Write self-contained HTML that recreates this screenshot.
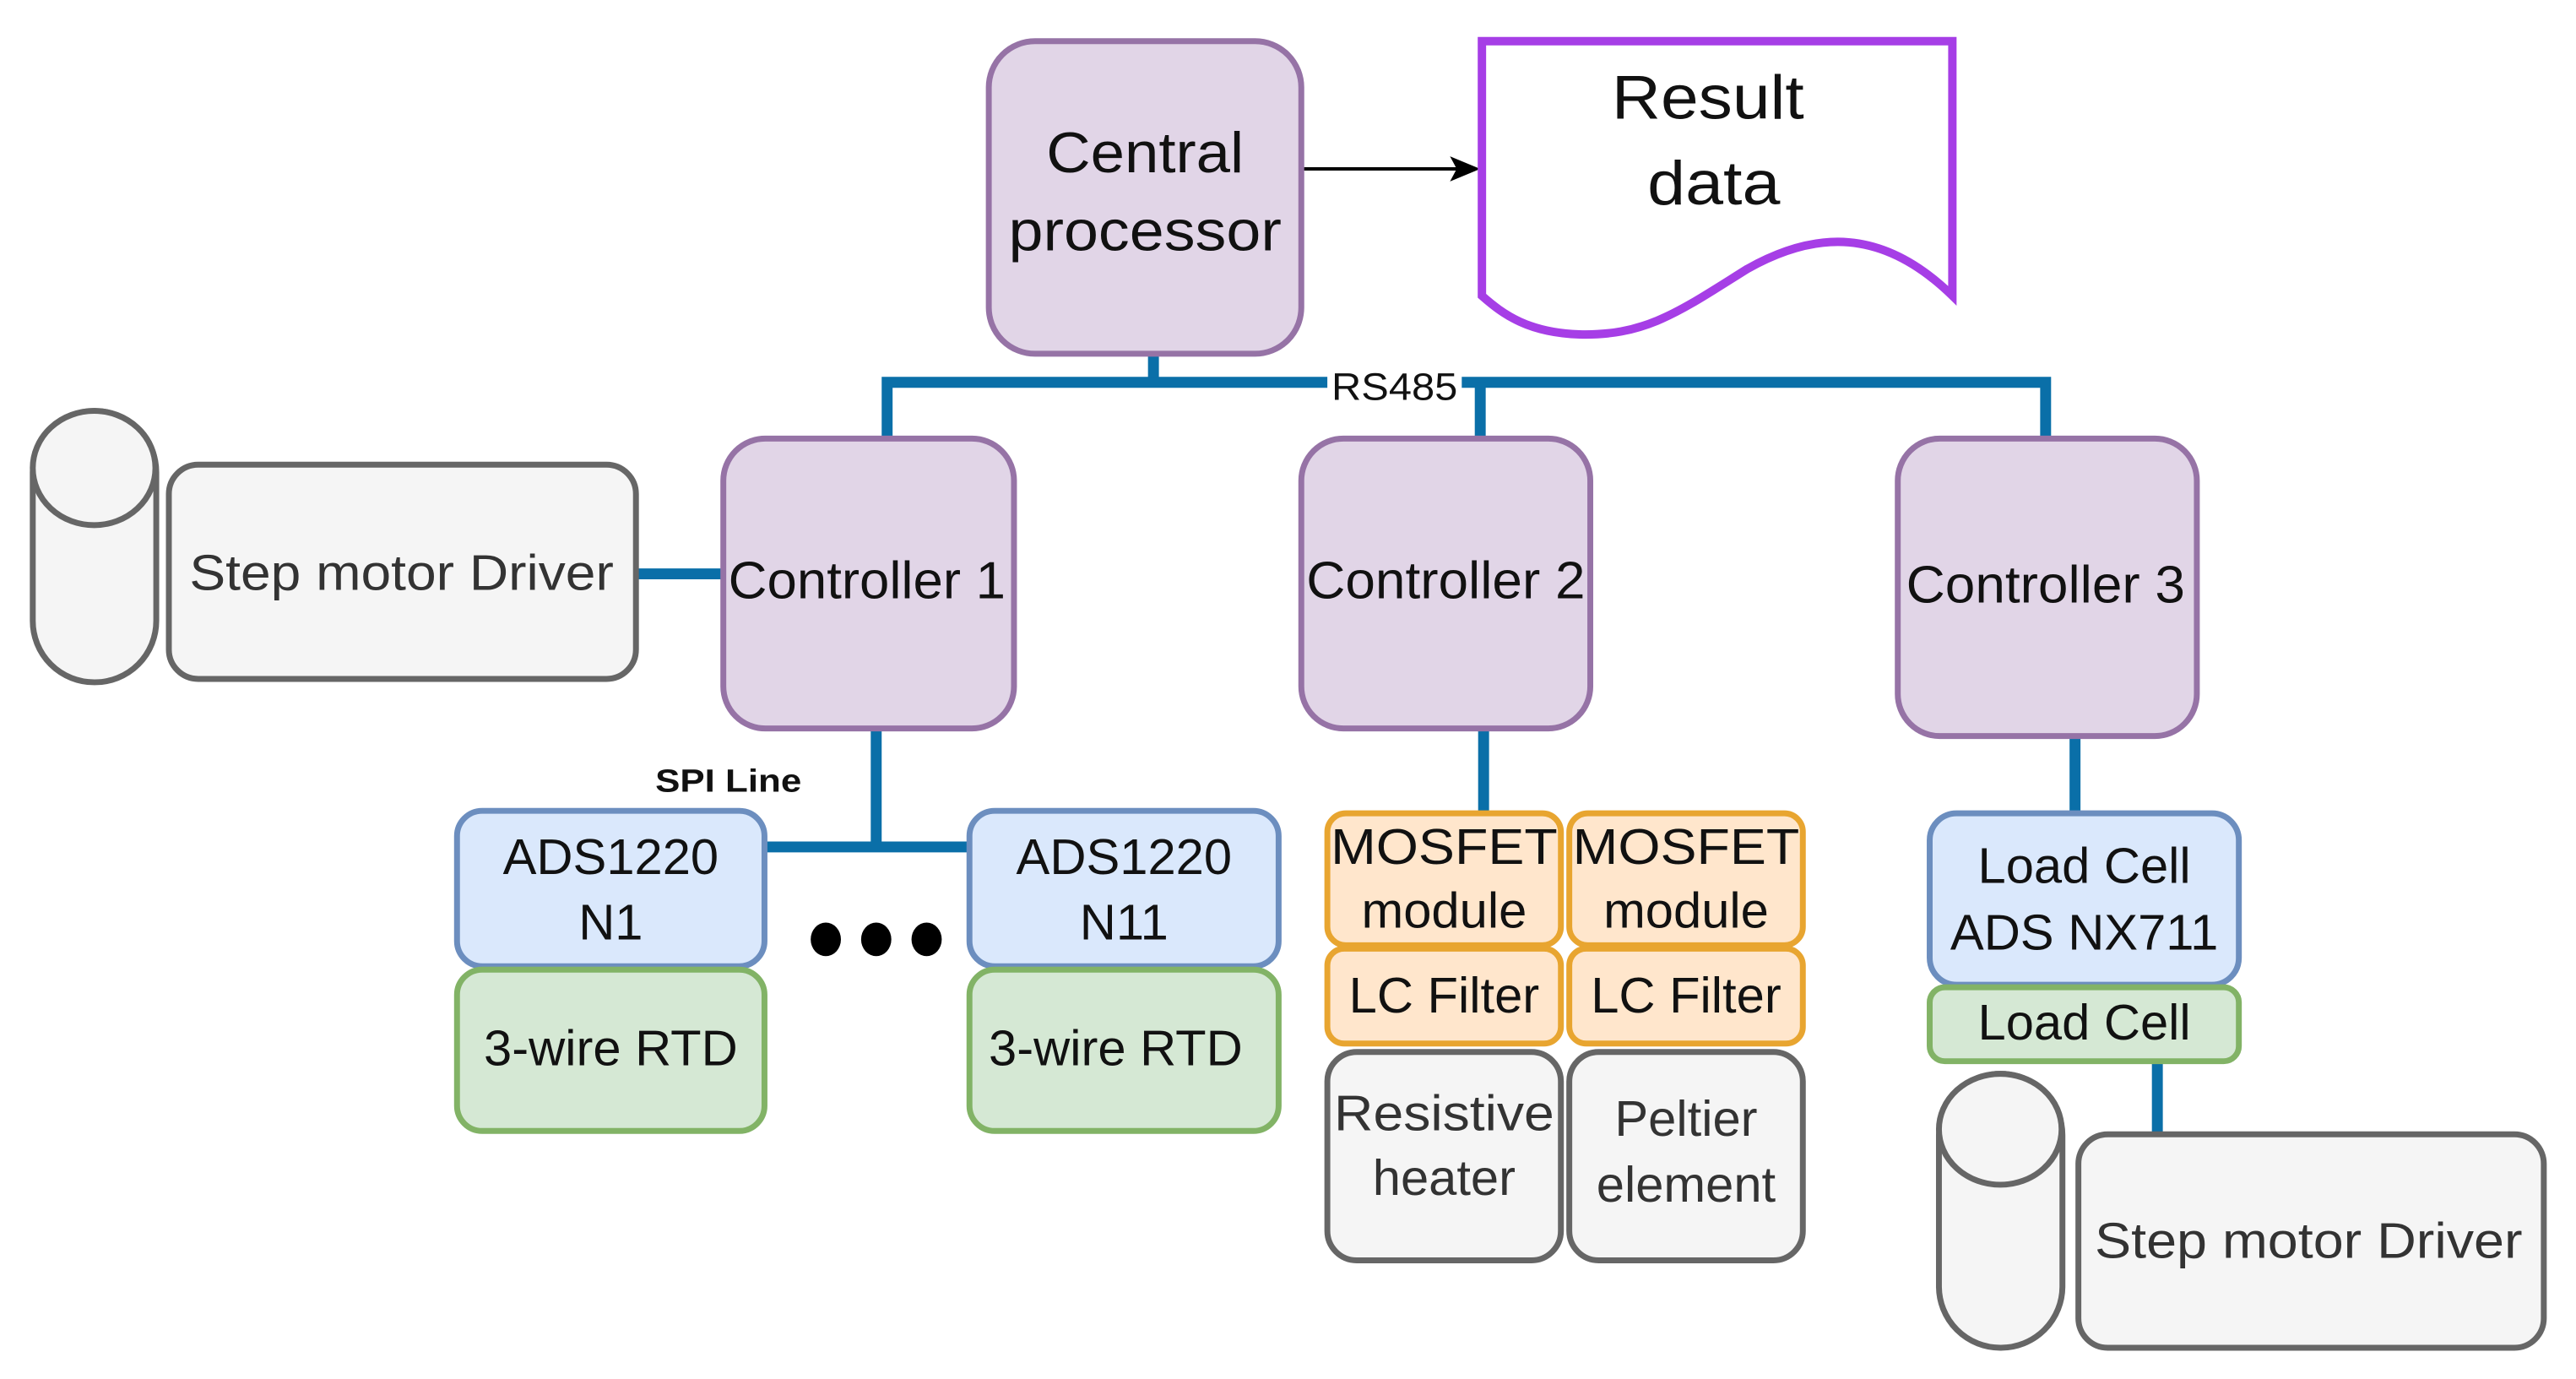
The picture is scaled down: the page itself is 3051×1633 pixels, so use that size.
<!DOCTYPE html>
<html><head><meta charset="utf-8"><style>
html,body{margin:0;padding:0;background:#fff;}
svg{display:block;}
text{font-family:"Liberation Sans",Arial,sans-serif;fill:#111;text-anchor:middle;}
</style></head><body>
<svg width="3051" height="1633" viewBox="0 0 3051 1633" xmlns="http://www.w3.org/2000/svg">
<g transform="scale(0.995)">
<g stroke="#0a6fa8" stroke-width="13" fill="none">
<path d="M1373,421 V455"/>
<path d="M1056,522 V455 H2435 V522"/>
<path d="M1762,455 V522"/>
<path d="M757,683 H861"/>
<path d="M1043,867 V1008"/>
<path d="M913,1008 H1154"/>
<path d="M1766,867 V968"/>
<path d="M2470,876 V965"/>
<path d="M2568,1262 V1350"/>
</g>
<rect x="1580" y="436" width="160" height="44" fill="#fff"/>
<text x="1660" y="476" font-size="46" textLength="150" lengthAdjust="spacingAndGlyphs">RS485</text>
<line x1="1549" y1="201" x2="1740" y2="201" stroke="#000" stroke-width="4"/>
<path d="M1726,186 L1762,201 L1726,216 L1734,201 z" fill="#000"/>
<g stroke="#9673a6" stroke-width="7" fill="#e1d5e7">
<rect x="1177" y="49" width="372" height="372" rx="55"/>
<rect x="861" y="522" width="346" height="345" rx="50"/>
<rect x="1549" y="522" width="344" height="345" rx="50"/>
<rect x="2259" y="522" width="356" height="354" rx="50"/>
</g>
<path d="M1764,49 H2324 V352 C2240,270 2160,275 2080,320 C2000,370 1960,400 1880,398 C1820,396 1790,375 1764,352 Z" fill="#fff" stroke="#a63ee6" stroke-width="10"/>
<text x="1363" y="205" font-size="68" textLength="235" lengthAdjust="spacingAndGlyphs">Central</text>
<text x="1363" y="298" font-size="68" textLength="325" lengthAdjust="spacingAndGlyphs">processor</text>
<text x="2033" y="141" font-size="74" textLength="229" lengthAdjust="spacingAndGlyphs">Result</text>
<text x="2040" y="243" font-size="74" textLength="158" lengthAdjust="spacingAndGlyphs">data</text>
<text x="1032" y="712" font-size="62" textLength="330" lengthAdjust="spacingAndGlyphs">Controller 1</text>
<text x="1721" y="712" font-size="62" textLength="332" lengthAdjust="spacingAndGlyphs">Controller 2</text>
<text x="2435" y="717" font-size="62" textLength="332" lengthAdjust="spacingAndGlyphs">Controller 3</text>
<g stroke="#666" stroke-width="7" fill="#f5f5f5">
<rect x="39" y="489" width="147" height="323" rx="73"/>
<ellipse cx="112" cy="557" rx="73" ry="68"/>
<rect x="201" y="553" width="556" height="255" rx="35"/>
<rect x="2308" y="1278" width="147" height="326" rx="73"/>
<ellipse cx="2381" cy="1344" rx="73" ry="66"/>
<rect x="2474" y="1350" width="554" height="254" rx="35"/>
<rect x="1580" y="1252" width="278" height="248" rx="35"/>
<rect x="1868" y="1252" width="278" height="248" rx="35"/>
</g>
<text x="478" y="702" font-size="60" style="fill:#333" textLength="505" lengthAdjust="spacingAndGlyphs">Step motor Driver</text>
<text x="2748" y="1497" font-size="60" style="fill:#333" textLength="509" lengthAdjust="spacingAndGlyphs">Step motor Driver</text>
<text x="1719" y="1345" font-size="60" style="fill:#333" textLength="262" lengthAdjust="spacingAndGlyphs">Resistive</text>
<text x="1719" y="1422" font-size="60" style="fill:#333">heater</text>
<text x="2007" y="1352" font-size="60" style="fill:#333">Peltier</text>
<text x="2007" y="1430" font-size="60" style="fill:#333">element</text>
<g stroke="#6c8ebf" stroke-width="7" fill="#dae8fc">
<rect x="544" y="965" width="366" height="185" rx="30"/>
<rect x="1154" y="965" width="368" height="185" rx="30"/>
<rect x="2297" y="968" width="368" height="204" rx="32"/>
</g>
<g stroke="#82b366" stroke-width="7" fill="#d5e8d4">
<rect x="544" y="1154" width="366" height="192" rx="30"/>
<rect x="1154" y="1154" width="368" height="192" rx="30"/>
<rect x="2297" y="1175" width="368" height="88" rx="18"/>
</g>
<g stroke="#e8a530" stroke-width="7" fill="#ffe6cc">
<rect x="1580" y="968" width="278" height="157" rx="22"/>
<rect x="1868" y="968" width="278" height="157" rx="22"/>
<rect x="1580" y="1129" width="278" height="113" rx="20"/>
<rect x="1868" y="1129" width="278" height="113" rx="20"/>
</g>
<text x="727" y="1040" font-size="60">ADS1220</text>
<text x="727" y="1118" font-size="60">N1</text>
<text x="1338" y="1040" font-size="60">ADS1220</text>
<text x="1338" y="1118" font-size="60">N11</text>
<text x="727" y="1268" font-size="60">3-wire RTD</text>
<text x="1328" y="1268" font-size="60">3-wire RTD</text>
<text x="2481" y="1051" font-size="60">Load Cell</text>
<text x="2481" y="1130" font-size="60">ADS NX711</text>
<text x="2481" y="1237" font-size="60">Load Cell</text>
<text x="1719" y="1028" font-size="60" textLength="270" lengthAdjust="spacingAndGlyphs">MOSFET</text>
<text x="1719" y="1104" font-size="60">module</text>
<text x="2007" y="1028" font-size="60" textLength="270" lengthAdjust="spacingAndGlyphs">MOSFET</text>
<text x="2007" y="1104" font-size="60">module</text>
<text x="1719" y="1205" font-size="60">LC Filter</text>
<text x="2007" y="1205" font-size="60">LC Filter</text>
<text x="867" y="942" font-size="38" font-weight="bold" textLength="174" lengthAdjust="spacingAndGlyphs">SPI Line</text>
<g fill="#000">
<ellipse cx="983" cy="1118" rx="18" ry="20"/>
<ellipse cx="1043" cy="1118" rx="18" ry="20"/>
<ellipse cx="1103" cy="1118" rx="18" ry="20"/>
</g>
</g>
</svg>
</body></html>
